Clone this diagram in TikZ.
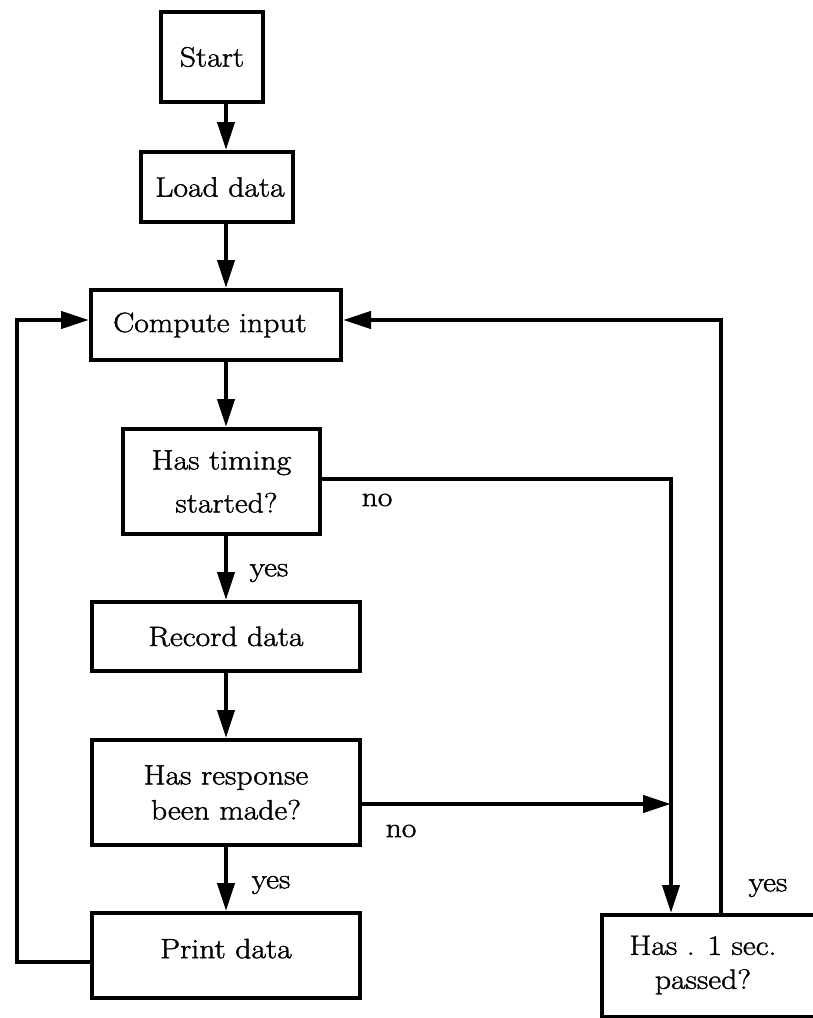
\documentclass[tikz,border=0pt]{standalone}
\usepackage{fontspec}
\setmainfont[FakeStretch=1.13,FakeBold=1.4]{Latin Modern Roman}
\usetikzlibrary{arrows.meta}
\begin{document}
\begin{tikzpicture}[x=1pt,y=-1pt,
  box/.style={draw,line width=4pt,inner sep=0pt,align=center,font=\fontsize{28}{38}\selectfont},
  arr/.style={line width=4pt,-{Triangle[length=28pt,width=17pt]}},
  lbl/.style={inner sep=0pt,font=\fontsize{28}{32}\selectfont}]
\useasboundingbox (0,0) rectangle (813,1018);
\clip (0,0) rectangle (813,1018);
\node[box,minimum width=102pt,minimum height=90pt] (start) at (212,57) {Start};
\node[box,minimum width=152pt,minimum height=70pt] (load) at (217,187) {\hspace*{6pt}Load data};
\node[box,minimum width=250pt,minimum height=70pt] (comp) at (216,325) {Compute input\hspace*{12pt}};
\node[box,minimum width=197pt,minimum height=105pt,font=\fontsize{28}{43}\selectfont] (timing) at (221.5,481.5) {Has timing\\\hspace*{10pt}started?};
\node[box,minimum width=268pt,minimum height=69pt] (record) at (226,636.5) {Record data};
\node[box,minimum width=268pt,minimum height=105pt,font=\fontsize{28}{35}\selectfont] (resp) at (226,792.5) {Has response\\been made?};
\node[box,minimum width=268pt,minimum height=85pt,text depth=14pt] (print) at (226,955.5) {Print data};
\node[box,minimum width=230pt,minimum height=102pt,anchor=north west] (sec) at (600,913) {};
\node[lbl,align=center,font=\fontsize{28}{34}\selectfont] (sectext) at (703,965) {Has . 1 sec.\\passed?};
\coordinate (ax) at (226,0);
\coordinate (jn) at (671,804);
\coordinate (lt) at (17,320);
\coordinate (lb) at (17,962);
\coordinate (rt) at (721,320);
\coordinate (nt) at (671,479);
\draw[arr] (start.south -| ax) -- (load.north -| ax);
\draw[arr] (load.south -| ax) -- (comp.north -| ax);
\draw[arr] (comp.south -| ax) -- (timing.north -| ax);
\draw[arr] (timing.south -| ax) -- (record.north -| ax);
\draw[arr] (record.south -| ax) -- (resp.north -| ax);
\draw[arr] (resp.south -| ax) -- (print.north -| ax);
\draw[arr] (print.west |- lb) -- (lb) -- (lt) -- (comp.west |- lt);
\draw[arr] (sec.north -| rt) -- (rt) -- (comp.east |- rt);
\draw[arr] (timing.east |- nt) -- (nt) -- (sec.north -| nt);
\draw[arr] (resp.east |- jn) -- (jn);
\node[lbl] (no1) at (377,500) {no};
\node[lbl] (no2) at (401,831) {no};
\node[lbl] (yes1) at (269,573) {yes};
\node[lbl] (yes2) at (271,885) {yes};
\node[lbl] (yes3) at (768,888) {yes};
\end{tikzpicture}
\end{document}
